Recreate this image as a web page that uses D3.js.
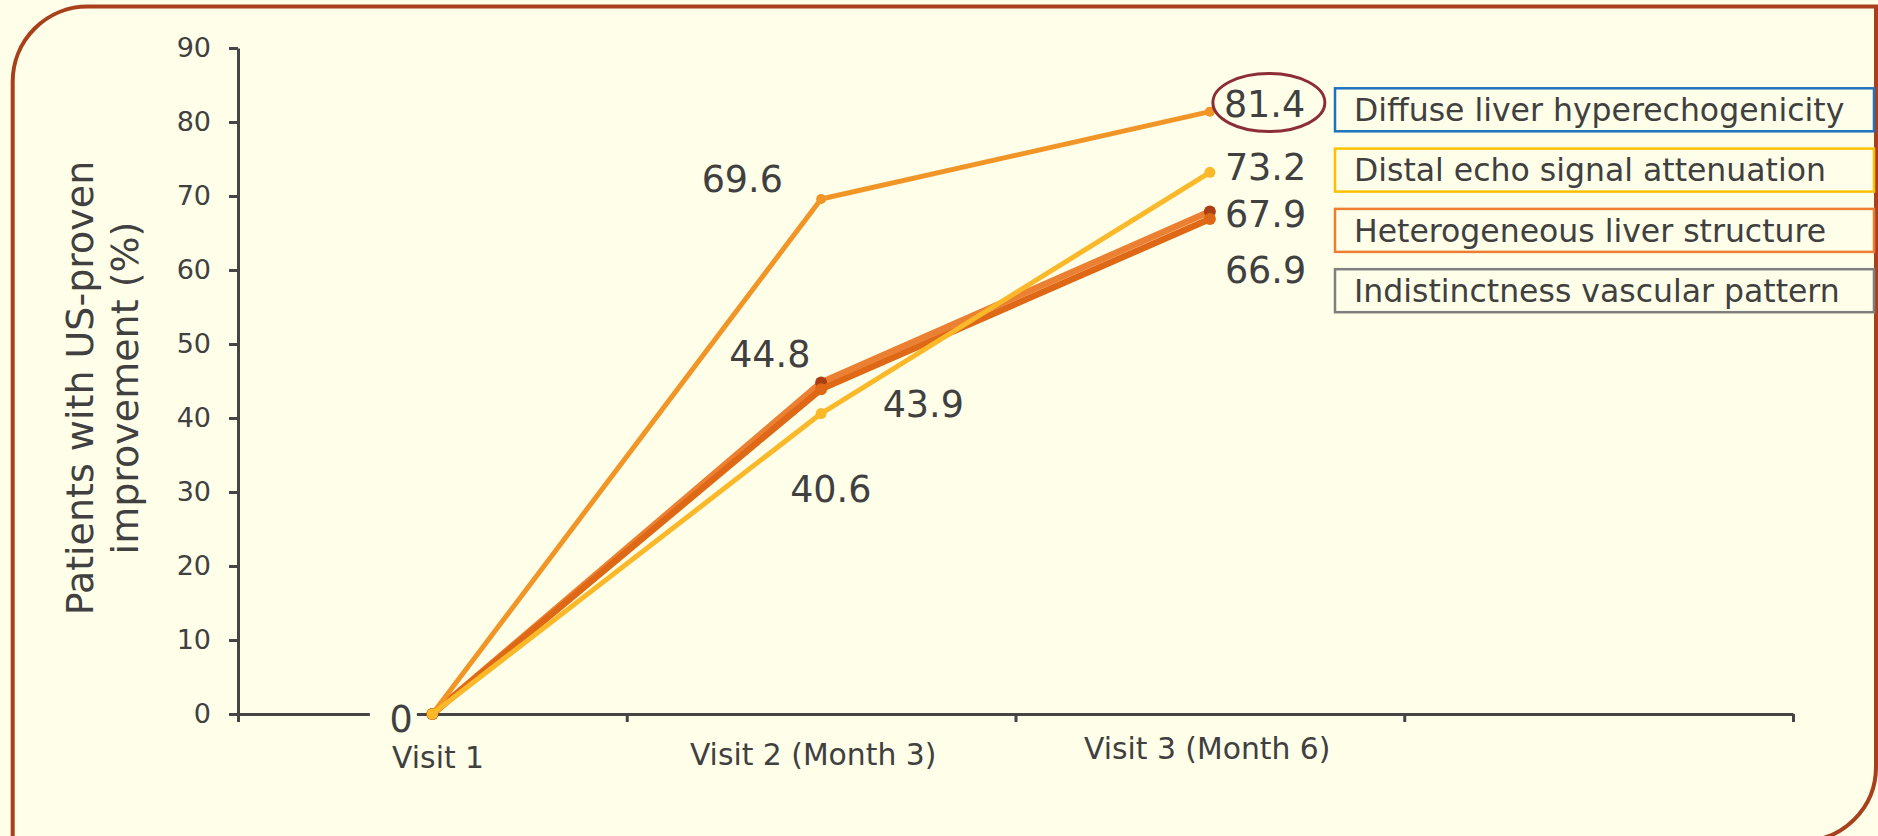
<!DOCTYPE html>
<html><head><meta charset="utf-8">
<script src="https://cdn.jsdelivr.net/npm/d3@7"></script>
<style>
html,body{margin:0;padding:0;background:#fefee9;}
svg{display:block;}
</style></head>
<body>
<svg id="chart" width="1878" height="836"></svg>
<script>
// ---------- Data ----------
const categories = ["Visit 1", "Visit 2 (Month 3)", "Visit 3 (Month 6)"];
const seriesNames = ["Diffuse liver hyperechogenicity", "Distal echo signal attenuation", "Heterogeneous liver structure", "Indistinctness vascular pattern"];
const diffuseValues = [0, 69.6, 81.4];
const distalValues = [0, 40.6, 73.2];
const heterogeneousValues = [0, 44.8, 67.9];
const indistinctValues = [0, 43.9, 66.9];
const yTickValues = [0, 10, 20, 30, 40, 50, 60, 70, 80, 90];
const yAxisTitle = ["Patients with US-proven", "improvement (%)"];

// ---------- Styles / layout ----------
const W = 1878, H = 836;
const bg = "#fefee9";
const textColor = "#404040";
const axisColor = "#454545";
const font = "'DejaVu Sans', Verdana, sans-serif";

const series = [
  { name: seriesNames[0], values: diffuseValues, color: "#f29527", marker: "#f29527", width: 5, r: 5, legend: "#1f72c0",
    labelOffsets: [[-43, 17.7], [-119.5, -7], [14, 5]] },
  { name: seriesNames[1], values: distalValues, color: "#fbb829", marker: "#fbb829", width: 5, r: 5.5, legend: "#fdc000",
    labelOffsets: [null, [-31, 88], [15, 7.7]] },
  { name: seriesNames[2], values: heterogeneousValues, color: "#ec8032", marker: "#aa3f16", width: 6.5, r: 6, legend: "#ed7d31",
    labelOffsets: [null, [-92, -15.8], [15, 15.2]] },
  { name: seriesNames[3], values: indistinctValues, color: "#de6815", marker: "#de6815", width: 6.5, r: 6, legend: "#7f7f7f",
    labelOffsets: [null, [61.5, 27.6], [15, 64]] }
];
const drawOrder = [2, 3, 0, 1];

const svg = d3.select("#chart");

// background
svg.append("rect").attr("width", W).attr("height", H).attr("fill", bg);

// border frame (rounded top-left and bottom-right)
const bL = 12.7, bT = 6.5, bR = 1876, bB = 841, rTL = 75, rBR = 74;
const framePath = d3.path();
framePath.moveTo(bL, H + 20);
framePath.lineTo(bL, bT + rTL);
framePath.arcTo(bL, bT, bL + rTL, bT, rTL);
framePath.lineTo(bR, bT);
framePath.lineTo(bR, bB - rBR);
framePath.arcTo(bR, bB, bR - rBR, bB, rBR);
framePath.lineTo(-20, bB);
svg.append("path").attr("d", framePath.toString())
  .attr("fill", "none").attr("stroke", "#a8401c").attr("stroke-width", 4);

// ---------- Scales ----------
const y = d3.scaleLinear().domain([0, 90]).range([714, 48]);
const band = d3.scaleBand().domain([...categories, ""]).range([238, 1793]).padding(0);
const xb = d3.scaleLinear().domain([0, 4]).range([238, 1793]);
const xc = (i) => band(categories[i]) + band.bandwidth() / 2;

// ---------- Axes ----------
const yAxis = svg.append("g").attr("transform", "translate(238,0)")
  .call(d3.axisLeft(y).tickValues(yTickValues).tickSize(9).tickSizeOuter(0).tickPadding(18));
yAxis.select(".domain").attr("stroke", axisColor).attr("stroke-width", 3);
yAxis.selectAll(".tick line").attr("stroke", axisColor).attr("stroke-width", 3);
yAxis.selectAll(".tick text").attr("fill", textColor).attr("font-family", font).attr("font-size", 27);

const xAxis = svg.append("g").attr("transform", `translate(0,${y(0)})`)
  .call(d3.axisBottom(xb).tickValues([0, 1, 2, 3, 4]).tickSize(8).tickSizeOuter(0).tickFormat(""));
xAxis.select(".domain").attr("stroke", axisColor).attr("stroke-width", 3);
xAxis.selectAll(".tick line").attr("stroke", axisColor).attr("stroke-width", 3);

// category labels
const catOffsets = [[5.7, 54], [-8, 51], [-2.7, 45]];
svg.append("g").selectAll("text").data(categories).join("text")
  .attr("x", (d, i) => xc(i) + catOffsets[i][0])
  .attr("y", (d, i) => y(0) + catOffsets[i][1])
  .attr("text-anchor", "middle")
  .attr("font-family", font).attr("font-size", 29.8).attr("fill", textColor)
  .text(d => d);

// y axis title
const title = svg.append("text").attr("transform", "rotate(-90)")
  .attr("text-anchor", "middle").attr("font-family", font).attr("font-size", 38).attr("fill", textColor);
title.selectAll("tspan").data(yAxisTitle).join("tspan")
  .attr("x", -388).attr("y", (d, i) => 93.3 + i * 45).text(d => d);

// ---------- Label for "0" with background (hides axis) ----------
const zeroOff = series[0].labelOffsets[0];
const zx = xc(0) + zeroOff[0], zy = y(series[0].values[0]) + zeroOff[1];
svg.append("rect").attr("x", zx - 19.5).attr("y", zy - 30).attr("width", 47).attr("height", 34).attr("fill", bg);

// ---------- Lines & markers ----------
const line = d3.line().x((d, i) => xc(i)).y(d => y(d));
drawOrder.forEach(si => {
  const s = series[si];
  const g = svg.append("g");
  g.append("path").attr("d", line(s.values)).attr("fill", "none")
    .attr("stroke", s.color).attr("stroke-width", s.width).attr("stroke-linejoin", "round");
  g.selectAll("circle").data(s.values).join("circle")
    .attr("cx", (d, i) => xc(i)).attr("cy", d => y(d)).attr("r", s.r).attr("fill", s.marker);
});

// ---------- Data labels ----------
series.forEach(s => {
  s.values.forEach((v, i) => {
    const off = s.labelOffsets[i];
    if (!off) return;
    svg.append("text")
      .attr("x", xc(i) + off[0]).attr("y", y(v) + off[1])
      .attr("font-family", font).attr("font-size", 36.5).attr("fill", textColor)
      .text(d3.format(v === 0 ? "d" : ".1f")(v));
  });
});

// highlight ellipse around top value
svg.append("ellipse")
  .attr("cx", xc(2) + 59).attr("cy", y(diffuseValues[2]) - 9.1)
  .attr("rx", 56).attr("ry", 29)
  .attr("fill", "none").attr("stroke", "#8b2e36").attr("stroke-width", 3);

// ---------- Legend ----------
const legendY = d3.scaleLinear().domain([0, 1]).range([88.3, 148.6]);
const lg = svg.append("g");
series.forEach((s, i) => {
  const top = legendY(i);
  lg.append("rect").attr("x", 1335).attr("y", top).attr("width", 539).attr("height", 43)
    .attr("fill", "none").attr("stroke", s.legend).attr("stroke-width", 2.5);
  lg.append("text").attr("x", 1354).attr("y", top + 32.7)
    .attr("font-family", font).attr("font-size", 31.5).attr("fill", textColor).text(s.name);
});
</script>
</body></html>
